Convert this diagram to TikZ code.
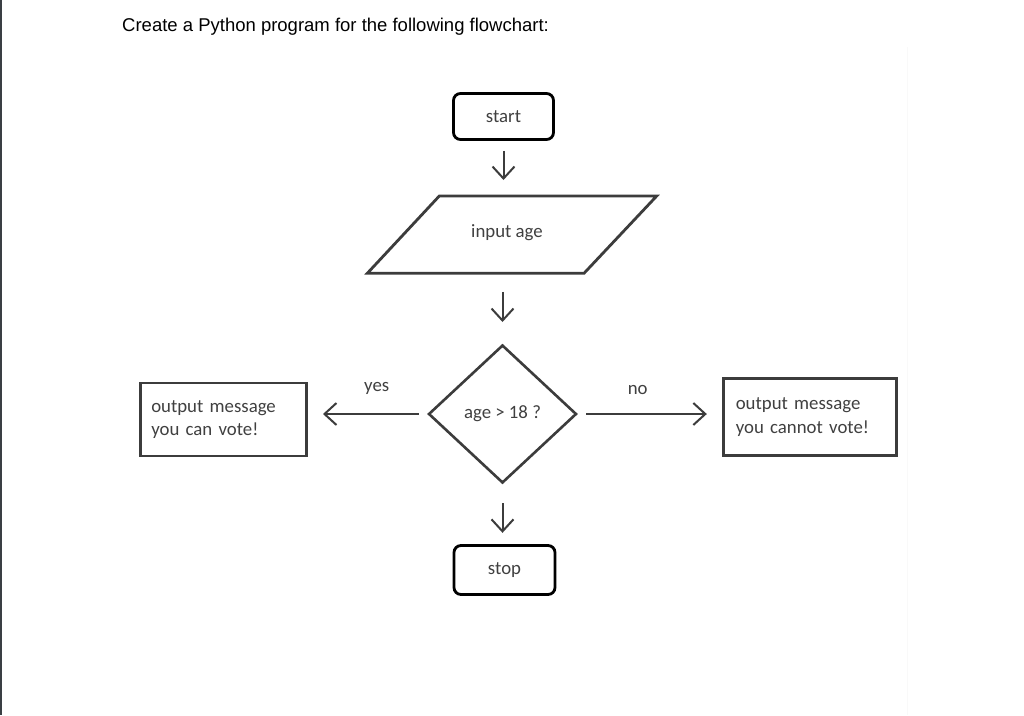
\documentclass[tikz,border=0pt]{standalone}
\usepackage{fontspec}
\setmainfont{Carlito}
\newfontfamily\titlefont{Liberation Sans}
\usetikzlibrary{arrows.meta,shapes.geometric}
\definecolor{ink}{HTML}{3C3C3C}
\definecolor{txt}{HTML}{404040}
\definecolor{edge}{HTML}{3A3F44}
\tikzset{
  every node/.style={font=\fontsize{18.8}{23.5}\selectfont, text=txt},
  term/.style={draw=black, line width=2.8pt, rounded corners=7pt, inner sep=0pt},
  outbox/.style={draw=ink, line width=2.8pt, inner sep=0pt, inner xsep=11pt, align=left},
  decbox/.style={draw=ink, line width=2.6pt, shape=diamond, inner sep=0pt},
  arr/.style={draw=ink, line width=2pt, -{Straight Barb[length=12pt,width=22pt,line width=2pt]}},
  lbl/.style={inner sep=0pt}
}
\begin{document}
\begin{tikzpicture}[x=1pt,y=-1pt]
\useasboundingbox (0,0) rectangle (1024,715);
\fill[white] (0,0) rectangle (1024,715);
\fill[edge] (0,0) rectangle (2.3,715);
\draw[gray!5, line width=0.6pt] (907,47) -- (907,715);

\node[anchor=base west, inner sep=0pt, text=black, font=\titlefont\fontsize{18.5}{22}\selectfont] (title) at (122,31.5) {Create a Python program for the following flowchart:};

\node[term, minimum width=100pt, minimum height=46pt] (start) at (503.5,116.5) {start};

\node[minimum width=217pt, minimum height=77pt, inner sep=0pt] (input) at (512,234.7) {};
\draw[ink, line width=2.8pt, line join=miter] (439.3,196) -- (656.7,196) -- (584,273.3) -- (367.3,273.3) -- cycle;
\node[lbl] (inputtext) at (507,232.5) {input age};

\node[decbox, minimum width=148pt, minimum height=138pt] (dec) at (502.5,414) {age > 18 ?};

\node[outbox, minimum width=166pt, minimum height=73pt, text width=144pt] (left) at (223.3,419.5) {output message\\you can vote!};
\node[outbox, minimum width=173pt, minimum height=77pt, text width=149pt, inner xsep=12pt] (right) at (810.3,417) {output message\\you cannot vote!};

\node[term, minimum width=101pt, minimum height=49pt] (stop) at (504.5,570) {stop};

\draw[arr, shorten <=10pt, shorten >=16pt] (start.south) -- (start.south |- input.north);
\draw[arr, shorten <=18.4pt, shorten >=21.7pt] (input.south -| dec.north) -- (dec.north);
\draw[arr, shorten <=18.7pt, shorten >=11.3pt] (dec.south) -- (dec.south |- stop.north);
\draw[arr, shorten <=8.3pt, shorten >=15.3pt] (dec.west) -- (dec.west -| left.east);
\draw[arr, shorten <=8.3pt, shorten >=15.6pt] (dec.east) -- (dec.east -| right.west);

\node[lbl] (yes) at (376.7,388) {yes};
\node[lbl] (no) at (637.7,390) {no};
\end{tikzpicture}
\end{document}
